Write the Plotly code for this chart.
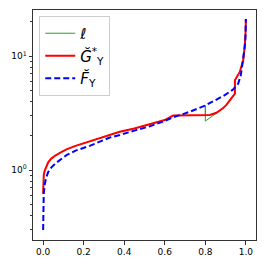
import plotly.graph_objects as go

# Ğ*_Y (red)
red_x = [0.0, 0.001, 0.003, 0.008, 0.015, 0.025, 0.04, 0.06, 0.085, 0.115, 0.16, 0.23, 0.329, 0.378,
         0.45, 0.526, 0.6, 0.641, 0.8, 0.822, 0.855, 0.888, 0.905, 0.92, 0.946, 0.946, 0.97, 0.987,
         0.995, 0.999, 1.0]
red_y = [0.62, 0.78, 0.9, 0.99, 1.08, 1.17, 1.26, 1.34, 1.42, 1.52, 1.63, 1.79, 2.06, 2.17,
         2.32, 2.52, 2.75, 3.01, 3.01, 3.05, 3.18, 3.5, 3.75, 4.1, 4.69, 6.14, 7.27, 9.2,
         12.5, 17.0, 21.2]

# F̆_Y (blue dashed)
blue_x = [0.0, 0.0003, 0.001, 0.003, 0.008, 0.015, 0.025, 0.04, 0.06, 0.085, 0.115, 0.16, 0.23,
          0.329, 0.378, 0.45, 0.526, 0.6, 0.641, 0.69, 0.724, 0.8, 0.855, 0.896, 0.937, 0.962,
          0.975, 0.987, 0.993, 0.998, 1.0]
blue_y = [0.297, 0.4, 0.5, 0.62, 0.75, 0.86, 0.96, 1.05, 1.14, 1.24, 1.35, 1.48, 1.63,
          1.93, 2.03, 2.22, 2.42, 2.7, 2.91, 3.1, 3.25, 3.69, 4.15, 4.55, 5.1, 5.74,
          6.8, 9.2, 11.5, 14.5, 21.2]

# ℓ (green, thin)
green_x = [0.0, 0.001, 0.003, 0.008, 0.015, 0.025, 0.04, 0.06, 0.085, 0.115, 0.16, 0.23, 0.329, 0.378,
           0.45, 0.526, 0.6, 0.641, 0.8, 0.8, 0.8, 0.855, 0.888, 0.905, 0.92, 0.946, 0.946, 0.97,
           0.987, 0.995, 0.999, 1.0]
green_y = [0.62, 0.78, 0.9, 0.99, 1.08, 1.17, 1.26, 1.34, 1.42, 1.52, 1.63, 1.79, 2.06, 2.17,
           2.32, 2.52, 2.75, 3.01, 3.01, 3.69, 2.69, 3.16, 3.5, 3.75, 4.1, 4.69, 6.14, 7.27,
           9.2, 12.5, 17.0, 21.2]

x_ticks = [0.0, 0.2, 0.4, 0.6, 0.8, 1.0]
x_tick_labels = ["0.0", "0.2", "0.4", "0.6", "0.8", "1.0"]
y_ticks = [1, 10]
y_tick_labels = ["10<sup>0</sup>", "10<sup>1</sup>"]
y_minor = [0.3, 0.4, 0.5, 0.6, 0.7, 0.8, 0.9, 2, 3, 4, 5, 6, 7, 8, 9, 20]

names = ["<i>ℓ</i>", "<i>Ğ</i><sup>*</sup><sub>Y</sub>", "<i>F̆</i><sub>Y</sub>"]

fig = go.Figure()
fig.add_trace(go.Scatter(x=green_x, y=green_y, mode="lines", name=names[0],
                         line=dict(color="#2ca02c", width=1)))
fig.add_trace(go.Scatter(x=red_x, y=red_y, mode="lines", name=names[1],
                         line=dict(color="red", width=2)))
fig.add_trace(go.Scatter(x=blue_x, y=blue_y, mode="lines", name=names[2],
                         line=dict(color="blue", width=2, dash="6px,3px")))

axis_common = dict(showline=True, mirror=True, linecolor="#333", linewidth=1, automargin=False,
                   showgrid=False, zeroline=False, ticks="outside", ticklen=3.5,
                   tickcolor="#333", tickfont=dict(family="DejaVu Sans", size=9, color="black"))

# The page body adds an 8px offset, so the figure is 258x258 with shifted margins.
fig.update_layout(
    width=258, height=258,
    margin=dict(l=25, r=10, t=2, b=26, autoexpand=False),
    paper_bgcolor="white", plot_bgcolor="white",
    showlegend=True,
    legend=dict(x=0.028, y=0.974, xanchor="left", yanchor="top",
                bgcolor="rgba(255,255,255,0.8)", bordercolor="#ccc", borderwidth=1,
                font=dict(family="DejaVu Sans", size=15, color="black"),
                itemwidth=30, tracegroupgap=0),
    xaxis=dict(range=[-0.05, 1.05], tickvals=x_ticks, ticktext=x_tick_labels, **axis_common),
    yaxis=dict(type="log", range=[-0.615, 1.406], tickvals=y_ticks, ticktext=y_tick_labels,
               minor=dict(tickvals=y_minor, ticks="outside", ticklen=2, tickcolor="#333"),
               **axis_common),
)

fig.write_html("out.html")
